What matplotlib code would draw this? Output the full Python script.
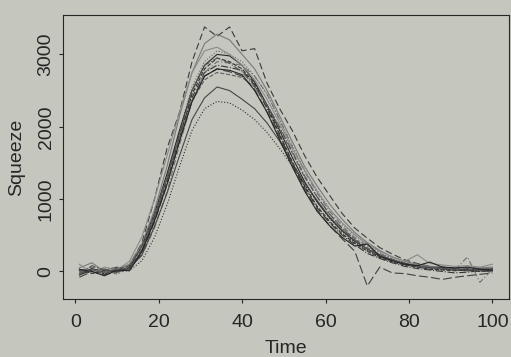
import matplotlib.pyplot as plt

plt.rcParams['font.family'] = ['Liberation Sans', 'DejaVu Sans']

# time points (every 3rd sample)
time = list(range(1, 101, 3))

# squeeze curves
c_a = [-30, 40, -20, 20, 80, 400, 1000, 1700, 2200, 2900, 3380, 3250, 3380, 3050, 3080, 2600, 2250,
       1950, 1600, 1300, 1050, 800, 600, 460, 330, 240, 160, 110, 70, 40, 20, 40, 30, 40]
c_b = [50, 120, 0, 30, 100, 380, 850, 1450, 2150, 2750, 3150, 3280, 3200, 3000, 2800, 2500, 2150,
       1800, 1450, 1180, 930, 720, 540, 400, 290, 200, 140, 100, 70, 60, 40, 60, 50, 60]
c_c = [20, -20, 40, -30, 70, 320, 760, 1300, 1950, 2550, 2900, 3050, 3000, 2900, 2700, 2450, 2100,
       1750, 1400, 1120, 860, 660, 500, 370, 260, 180, 120, 90, 60, 40, 30, 20, 10, 30]
c_d = [-50, 20, 30, -10, 60, 350, 800, 1350, 1950, 2500, 2850, 3000, 2980, 2850, 2620, 2300, 1950,
       1580, 1240, 960, 740, 560, 420, 310, 210, 150, 110, 80, 50, 60, 40, 20, 30, 10]
c_e = [30, -30, 10, 20, 20, 280, 720, 1250, 1850, 2450, 2800, 2950, 2900, 2800, 2600, 2280, 1900,
       1520, 1180, 900, 690, 520, 390, 280, 190, 130, 90, 60, 30, 20, 10, 30, 0, 20]
c_f = [0, 40, -40, 50, 40, 300, 760, 1300, 1900, 2400, 2750, 2850, 2820, 2780, 2580, 2250, 1880,
       1500, 1160, 880, 670, 500, 370, 250, 180, 120, 70, 40, 20, 0, -20, -10, 10, 0]
c_g = [-80, 0, -50, 0, 50, 250, 680, 1200, 1800, 2350, 2700, 2800, 2760, 2700, 2520, 2200, 1850,
       1480, 1130, 850, 630, 450, 280, -200, 60, -20, -30, -60, -80, -110, -80, -60, -40, -20]
c_h = [10, 60, 30, -40, 50, 220, 600, 1100, 1750, 2350, 2750, 2900, 2880, 2850, 2700, 2450, 2100,
       1720, 1380, 1080, 830, 630, 470, 350, 250, 170, 120, 80, 60, 40, 20, 200, -150, 30]
c_i = [20, -10, 10, 0, 40, 230, 620, 1080, 1600, 2100, 2400, 2550, 2500, 2380, 2250, 2050, 1800,
       1500, 1220, 980, 750, 570, 420, 310, 230, 160, 110, 70, 50, 30, 20, 10, 20, 40]
c_j = [-20, 0, -30, 10, 10, 150, 470, 920, 1450, 1950, 2250, 2350, 2330, 2230, 2100, 1920, 1700,
       1460, 1200, 960, 730, 550, 400, 290, 200, 140, 90, 60, 40, 30, 20, 10, 0, 10]
c_k = [100, -20, 60, 20, 140, 480, 1000, 1600, 2200, 2750, 3050, 3100, 3000, 2850, 2650, 2380, 2050,
       1700, 1400, 1100, 860, 670, 510, 380, 280, 200, 140, 230, 110, 90, 70, 80, 60, 100]
c_l = [0, 30, -20, 40, 80, 350, 800, 1300, 1850, 2350, 2650, 2750, 2720, 2680, 2550, 2300, 1980,
       1640, 1300, 1030, 790, 600, 450, 330, 230, 160, 100, 70, 40, 50, 30, 40, 20, 50]
c_m = [-40, 80, 20, 60, 30, 300, 740, 1280, 1900, 2500, 2850, 2950, 2880, 2760, 2560, 2300, 2000,
       1660, 1320, 1030, 790, 590, 440, 310, 220, 150, 100, 70, 60, 40, 30, 20, 40, 20]
c_n = [30, 0, -60, 20, 10, 280, 700, 1200, 1800, 2350, 2700, 2800, 2780, 2720, 2500, 2200, 1820,
       1450, 1110, 830, 630, 470, 350, 380, 210, 150, 100, 80, 130, 60, 50, 60, 30, 20]

curves = [c_a, c_b, c_c, c_d, c_e, c_f, c_g, c_h, c_i, c_j, c_k, c_l, c_m, c_n]
styles = [(0, (6, 3)), '-', ':', '-', '--', '-.', (0, (8, 3)), (0, (5, 2, 1, 2)),
          '-', ':', '-', '--', '-.', '-']
greys = ['#3a3a3a', '#7a7a7a', '#6a6a6a', '#2a2a2a', '#303030', '#353535', '#404040', '#707070',
         '#454545', '#303030', '#8a8a8a', '#606060', '#555555', '#252525']

paper = '#c5c6be'
ink = '#262626'

fig = plt.figure(figsize=(5.11, 3.57), dpi=100, facecolor=paper)
ax = fig.add_axes([0.123, 0.162, 0.873, 0.796], facecolor=paper)

for y, ls, col in zip(curves, styles, greys):
    ax.plot(time, y, linestyle=ls, color=col, linewidth=0.8)

ax.set_xlim(-2.96, 103.96)
ax.set_ylim(-383, 3545)
ax.set_xticks([0, 20, 40, 60, 80, 100])
ax.set_yticks([0, 1000, 2000, 3000])
ax.set_yticklabels(['0', '1000', '2000', '3000'], rotation=90, va='center')
ax.tick_params(colors=ink, labelsize=14, length=3, width=0.8)
ax.tick_params(axis='x', pad=8)
ax.tick_params(axis='y', pad=3)
for s in ax.spines.values():
    s.set_color(ink)
    s.set_linewidth(0.8)

ax.set_xlabel('Time', fontsize=14, color=ink, labelpad=6)
ax.set_ylabel('Squeeze', fontsize=14, color=ink, labelpad=9)

fig.savefig('out.png', dpi=100, facecolor=paper)
